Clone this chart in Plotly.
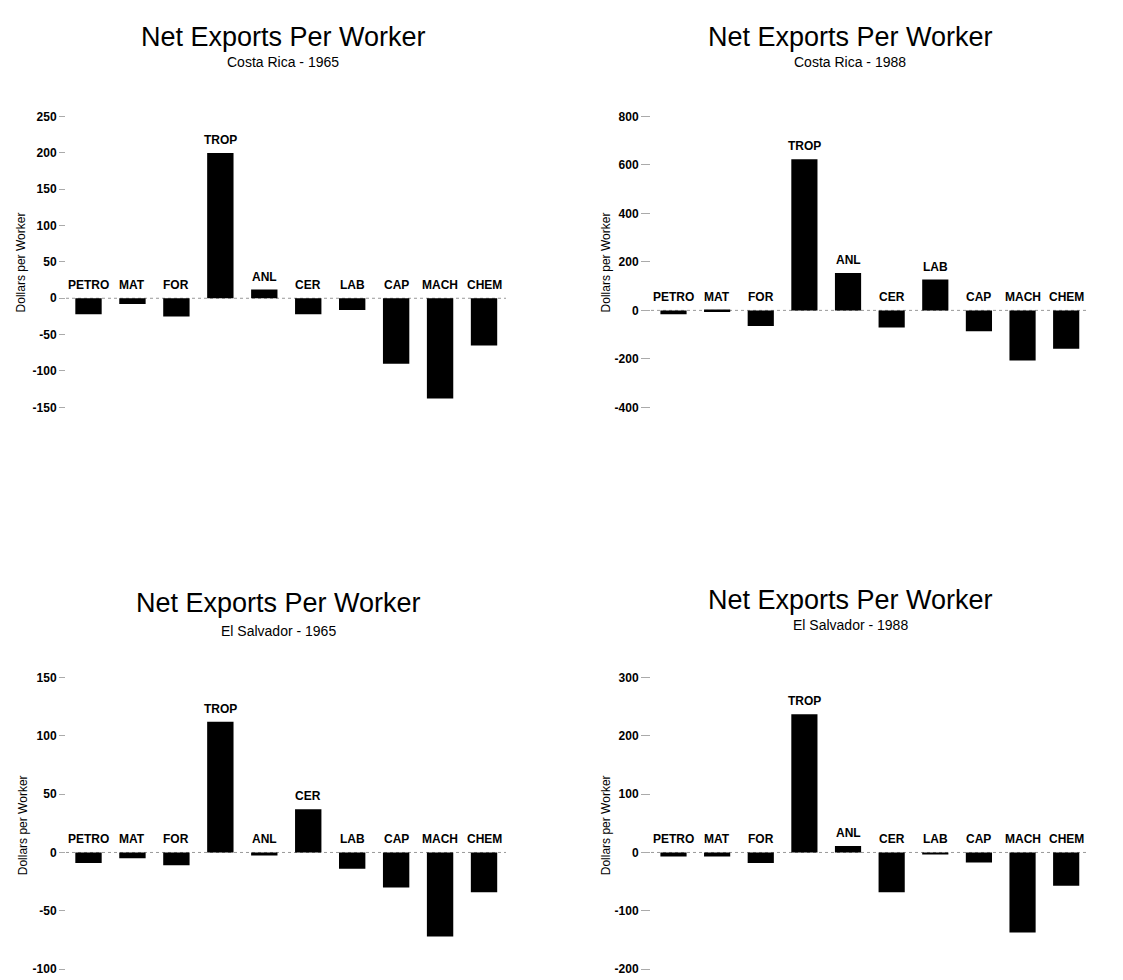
import plotly.graph_objects as go

categories = ["PETRO", "MAT", "FOR", "TROP", "ANL", "CER", "LAB", "CAP", "MACH", "CHEM"]

cr_1965 = [-22, -8, -25, 200, 12, -22, -16, -90, -138, -65]
cr_1988 = [-16, -7, -64, 624, 154, -71, 127, -86, -207, -158]
es_1965 = [-9, -5, -11, 112, -2.5, 37, -14, -30, -72, -34]
es_1988 = [-7, -7, -18, 237, 11, -68, -3, -17, -137, -57]

main_title = "Net Exports Per Worker"
subtitles = ["Costa Rica - 1965", "Costa Rica - 1988", "El Salvador - 1965", "El Salvador - 1988"]
y_ranges = [[-150, 250], [-400, 800], [-100, 150], [-200, 300]]
y_ticks = [
    [-150, -100, -50, 0, 50, 100, 150, 200, 250],
    [-400, -200, 0, 200, 400, 600, 800],
    [-100, -50, 0, 50, 100, 150],
    [-200, -100, 0, 100, 200, 300],
]
y_title = "Dollars per Worker"

series = [cr_1965, cr_1988, es_1965, es_1988]

W, H = 1123, 980
FONT = "Liberation Sans, Arial, sans-serif"

# panel pixel boxes: (left, right, top, bottom)
boxes = [(58, 498, 103, 398), (643, 1080, 103, 398),
         (58, 498, 672, 968), (643, 1080, 672, 968)]
ticklens = [6, 9, 6, 9]
title_pos = [(275, 22, 48), (842, 22, 48), (270, 597, 625), (842, 593, 619)]
ytitle_pos = [(13, 251), (598, 251), (15, 822), (598, 822)]

fig = go.Figure()
annotations = []
shapes = []
layout = {}

for i, vals in enumerate(series):
    n = "" if i == 0 else str(i + 1)
    xa, ya = "x" + n, "y" + n
    l, r, t, b = boxes[i]
    fig.add_trace(go.Bar(x=categories, y=vals, xaxis=xa, yaxis=ya,
                         marker=dict(color="black", line=dict(width=0)),
                         width=0.6, showlegend=False, hoverinfo="x+y"))
    layout["xaxis" + n] = dict(domain=[l / W, r / W], anchor=ya,
                               showticklabels=False, showgrid=False, zeroline=False,
                               showline=False, ticks="", fixedrange=True)
    layout["yaxis" + n] = dict(domain=[1 - b / H, 1 - t / H], anchor=xa,
                               range=y_ranges[i], tickmode="array",
                               tickvals=y_ticks[i], ticktext=[str(v) for v in y_ticks[i]],
                               showgrid=False, zeroline=False, showline=False,
                               ticks="outside", ticklen=ticklens[i], tickwidth=1,
                               tickcolor="#aaaaaa",
                               tickfont=dict(family=FONT, size=12, color="black",
                                             weight="bold"))
    shapes.append(dict(type="line", xref=xa + " domain", yref=ya, x0=0, x1=1, y0=0, y1=0,
                       line=dict(color="#999999", width=1, dash="dot"), layer="below"))
    for c, v in zip(categories, vals):
        annotations.append(dict(x=c, y=max(v, 0), xref=xa, yref=ya, text=c,
                                showarrow=False, yanchor="bottom", yshift=4,
                                font=dict(family=FONT, size=12, color="black",
                                          weight="bold")))
    tx, ty, sy = title_pos[i]
    annotations.append(dict(x=tx / W, y=1 - ty / H, xref="paper", yref="paper",
                            text=main_title, showarrow=False, xanchor="center",
                            yanchor="middle", font=dict(family=FONT, size=27, color="black")))
    annotations.append(dict(x=tx / W, y=1 - sy / H, xref="paper", yref="paper",
                            text=subtitles[i], showarrow=False, xanchor="center",
                            yanchor="middle", font=dict(family=FONT, size=14, color="black")))
    yx, yy = ytitle_pos[i]
    annotations.append(dict(x=yx / W, y=1 - yy / H, xref="paper", yref="paper",
                            text=y_title, showarrow=False, textangle=-90,
                            xanchor="center", yanchor="middle",
                            font=dict(family=FONT, size=12, color="black")))

fig.update_layout(width=W, height=H, margin=dict(l=0, r=0, t=0, b=0),
                  paper_bgcolor="white", plot_bgcolor="white",
                  annotations=annotations, shapes=shapes, bargap=0.4,
                  font=dict(family=FONT, color="black"), **layout)

fig.write_html("out.html")
